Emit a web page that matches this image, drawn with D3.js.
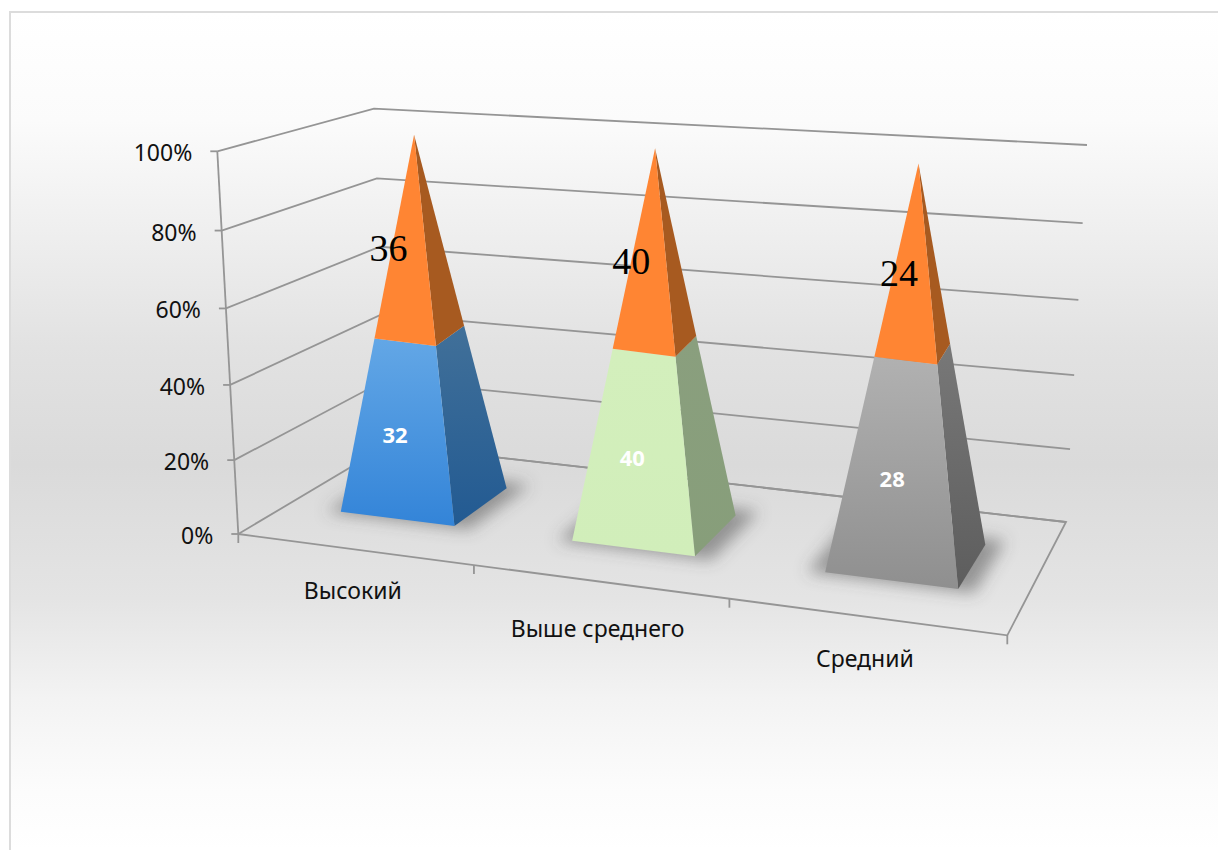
<!DOCTYPE html>
<html lang="ru">
<head>
<meta charset="utf-8">
<title>Уровни</title>
<script src="https://cdn.jsdelivr.net/npm/d3@7"></script>
<style>
  html, body { margin: 0; padding: 0; background: #fff; }
  svg { display: block; }
  text { font-family: "Noto Sans", sans-serif; }
</style>
</head>
<body>
<svg id="chart" width="1218" height="850"></svg>
<script>
// Chart data
const categories = ["Высокий", "Выше среднего", "Средний"];
const lowerSeries = [32, 40, 28];
const upperSeries = [36, 40, 24];
const percentTicks = [0, 20, 40, 60, 80, 100];

// Face colours of the lower segment: [front top, front bottom, side top, side bottom]
const lowerColors = [
  ["#63a7e6", "#3384d8", "#417099", "#225a92"],
  ["#d3efbc", "#d1eeba", "#8a9f7e", "#879e7a"],
  ["#b1b1b1", "#8f8f8f", "#787878", "#5d5d5d"]
];
const upperFront = "#ff8533";
const upperSide = "#a75a20";

// Hand-placed nudges, in pixels
const upperLabelShift = [[-21, 11], [-18, 12], [-13, 13]];
const lowerLabelShift = [[-6, 6], [-6, 8], [-6, 9]];
const categoryLabelShift = [[-1, 50], [-1.5, 55], [-0.5, 50]];
const apexLean = [5, 10, 6];
const baseNudge = [-2, -2.4, 0];

// The plot box in screen space: floor and ceiling quads [front-left, front-right, back-right, back-left]
const floorQuad = [[238.3, 534], [1007.3, 635.3], [1066, 522], [388, 445]];
const ceilingQuad = [[217.3, 151.3], [1028, 204], [1087, 145], [374, 108.7]];
const heightWarp = 0.957;

function quadMap([p0, p1, p2, p3]) {
  const sx = p0[0] - p1[0] + p2[0] - p3[0], sy = p0[1] - p1[1] + p2[1] - p3[1];
  const dx1 = p1[0] - p2[0], dx2 = p3[0] - p2[0], dy1 = p1[1] - p2[1], dy2 = p3[1] - p2[1];
  const den = dx1 * dy2 - dx2 * dy1;
  const g = (sx * dy2 - dx2 * sy) / den, h = (dx1 * sy - sx * dy1) / den;
  const a = p1[0] - p0[0] + g * p1[0], b = p3[0] - p0[0] + h * p3[0];
  const d = p1[1] - p0[1] + g * p1[1], e = p3[1] - p0[1] + h * p3[1];
  return (u, v) => {
    const w = g * u + h * v + 1;
    return [(a * u + b * v + p0[0]) / w, (d * u + e * v + p0[1]) / w];
  };
}
const floorAt = quadMap(floorQuad), ceilingAt = quadMap(ceilingQuad);

// Foreshortening of the value axis
const warp = t => t * heightWarp / (1 + (heightWarp - 1) * t);

// Project a point of the box: u along the categories, v into depth, t up the value axis (all 0..1)
function project(u, v, t) {
  const f = floorAt(u, v), c = ceilingAt(u, v);
  const k = warp(t);
  return [f[0] + (c[0] - f[0]) * k, f[1] + (c[1] - f[1]) * k];
}

const xBand = d3.scaleBand().domain(categories).range([0, 1]).paddingInner(0).paddingOuter(0);
const yShare = d3.scaleLinear().domain([0, 100]).range([0, 1]);
const baseHalfWidth = xBand.bandwidth() * 0.25;
const depthScale = d3.scaleLinear().domain([-1, 1]).range([0.30, 0.70]);

const rows = categories.map((c, i) => ({ category: c, lower: lowerSeries[i], upper: upperSeries[i] }));
const stacked = d3.stack().keys(["lower", "upper"]).offset(d3.stackOffsetExpand)(rows);

const svg = d3.select("#chart");
const defs = svg.append("defs");

// Page background and frame
const bg = defs.append("linearGradient").attr("id", "bg")
  .attr("gradientUnits", "userSpaceOnUse").attr("x1", 0).attr("x2", 0).attr("y1", 12).attr("y2", 850);
[[0, "#ffffff"], [0.13, "#fbfbfb"], [0.27, "#eeeeee"], [0.4, "#e2e2e2"], [0.54, "#dadada"],
 [0.7, "#e4e4e4"], [0.82, "#f3f3f3"], [0.93, "#fcfcfc"], [1, "#ffffff"]]
  .forEach(([o, c]) => bg.append("stop").attr("offset", o).attr("stop-color", c));
svg.append("rect").attr("x", 10).attr("y", 12).attr("width", 1208).attr("height", 838).attr("fill", "url(#bg)");
svg.append("path").attr("d", "M10,850V12H1218").attr("fill", "none").attr("stroke", "#dcdcdc").attr("stroke-width", 2);

defs.append("filter").attr("id", "soft").attr("x", "-50%").attr("y", "-80%").attr("width", "200%").attr("height", "260%")
  .append("feGaussianBlur").attr("stdDeviation", 8);

categories.forEach((c, i) => {
  const g = lowerColors[i];
  [["front", g[0], g[1]], ["side", g[2], g[3]]].forEach(([name, top, bottom]) => {
    const lg = defs.append("linearGradient").attr("id", `${name}${i}`).attr("x1", 0).attr("x2", 0).attr("y1", 0).attr("y2", 1);
    lg.append("stop").attr("offset", 0).attr("stop-color", top);
    lg.append("stop").attr("offset", 1).attr("stop-color", bottom);
  });
});

// Grid on the back and side walls
const gridStroke = "#959595";
const line = d3.line();
const wireG = svg.append("g").attr("fill", "none").attr("stroke", gridStroke).attr("stroke-width", 1.8);
percentTicks.forEach(p => {
  const t = yShare(p);
  wireG.append("path").attr("d", line([project(0, 0, t), project(0, 1, t), project(1, 1, t)]));
  const a = project(0, 0, t);
  wireG.append("path").attr("d", line([a, [a[0] - 7, a[1]]]));
});
wireG.append("path").attr("d", line([project(0, 0, 0), project(0, 0, 1)]));
wireG.append("path").attr("d", line([project(0, 1, 0), project(1, 1, 0), project(1, 0, 0), project(0, 0, 0)]));
d3.range(categories.length + 1).forEach(i => {
  const a = project(i / categories.length, 0, 0);
  wireG.append("path").attr("d", line([a, [a[0], a[1] + 9]]));
});

// Value axis labels
svg.append("g").selectAll("text").data(percentTicks).join("text")
  .attr("x", p => project(0, 0, yShare(p))[0] - 25)
  .attr("y", p => project(0, 0, yShare(p))[1] + 10)
  .attr("text-anchor", "end").attr("font-size", 23).attr("fill", "#111")
  .text(p => `${p}%`);

// Category labels
svg.append("g").selectAll("text").data(categories).join("text")
  .attr("x", (c, i) => project(xBand(c) + xBand.bandwidth() / 2, 0, 0)[0] + categoryLabelShift[i][0])
  .attr("y", (c, i) => project(xBand(c) + xBand.bandwidth() / 2, 0, 0)[1] + categoryLabelShift[i][1])
  .attr("text-anchor", "middle").attr("font-size", 23).attr("fill", "#111")
  .text(c => c);

// Pyramids, one per category
function apexOf(c, i) {
  const p = project(xBand(c) + xBand.bandwidth() / 2, depthScale(0), 1);
  return [p[0] + apexLean[i], p[1]];
}

function cornerOf(c, i, su, sv, t) {
  const mid = xBand(c) + xBand.bandwidth() / 2;
  const apex = apexOf(c, i);
  const base = project(mid + su * baseHalfWidth, depthScale(sv), 0);
  const bx = base[0] + baseNudge[i];
  const k = warp(t);
  return [bx + (apex[0] - bx) * k, base[1] + (apex[1] - base[1]) * k];
}

const pyramids = svg.append("g").selectAll("g").data(categories).join("g");

pyramids.append("path")
  .attr("d", c => {
    const mid = xBand(c) + xBand.bandwidth() / 2;
    const bw = baseHalfWidth * 1.25;
    return line([[-1, -1.08], [1, -1.08], [1, 1.3], [-1, 1.3]].map(([a, b]) =>
      project(mid + a * bw, depthScale(b), 0))) + "Z";
  })
  .attr("fill", "#4d4d4d").attr("fill-opacity", 0.52).attr("filter", "url(#soft)");

pyramids.each(function (c, i) {
  const sel = d3.select(this);
  const split = stacked[0][i][1];
  const at = (su, sv, t) => cornerOf(c, i, su, sv, t);
  sel.append("path").attr("fill", `url(#side${i})`)
    .attr("d", line([at(1, -1, 0), at(1, 1, 0), at(1, 1, split), at(1, -1, split)]) + "Z");
  sel.append("path").attr("fill", `url(#front${i})`)
    .attr("d", line([at(-1, -1, 0), at(1, -1, 0), at(1, -1, split), at(-1, -1, split)]) + "Z");
  sel.append("path").attr("fill", upperSide)
    .attr("d", line([at(1, -1, split), at(1, 1, split), at(1, 1, 1)]) + "Z");
  sel.append("path").attr("fill", upperFront)
    .attr("d", line([at(-1, -1, split), at(1, -1, split), at(1, -1, 1)]) + "Z");
});

// Value labels, anchored at the middle of each segment's front face
function frontMid(c, i, t) {
  return cornerOf(c, i, 0, -1, t);
}

svg.append("g").selectAll("text").data(categories).join("text")
  .attr("x", (c, i) => frontMid(c, i, stacked[0][i][1] / 2)[0] + lowerLabelShift[i][0])
  .attr("y", (c, i) => frontMid(c, i, stacked[0][i][1] / 2)[1] + lowerLabelShift[i][1] + 6)
  .attr("text-anchor", "middle").attr("font-size", 22).attr("font-weight", 700).attr("fill", "#fff")
  .text((c, i) => lowerSeries[i]);

svg.append("g").selectAll("text").data(categories).join("text")
  .attr("x", (c, i) => frontMid(c, i, (stacked[1][i][0] + stacked[1][i][1]) / 2)[0] + upperLabelShift[i][0])
  .attr("y", (c, i) => frontMid(c, i, (stacked[1][i][0] + stacked[1][i][1]) / 2)[1] + upperLabelShift[i][1] + 10)
  .attr("text-anchor", "middle").attr("font-size", 38).attr("fill", "#000")
  .style("font-family", '"Liberation Serif", serif')
  .text((c, i) => upperSeries[i]);
</script>
</body>
</html>
